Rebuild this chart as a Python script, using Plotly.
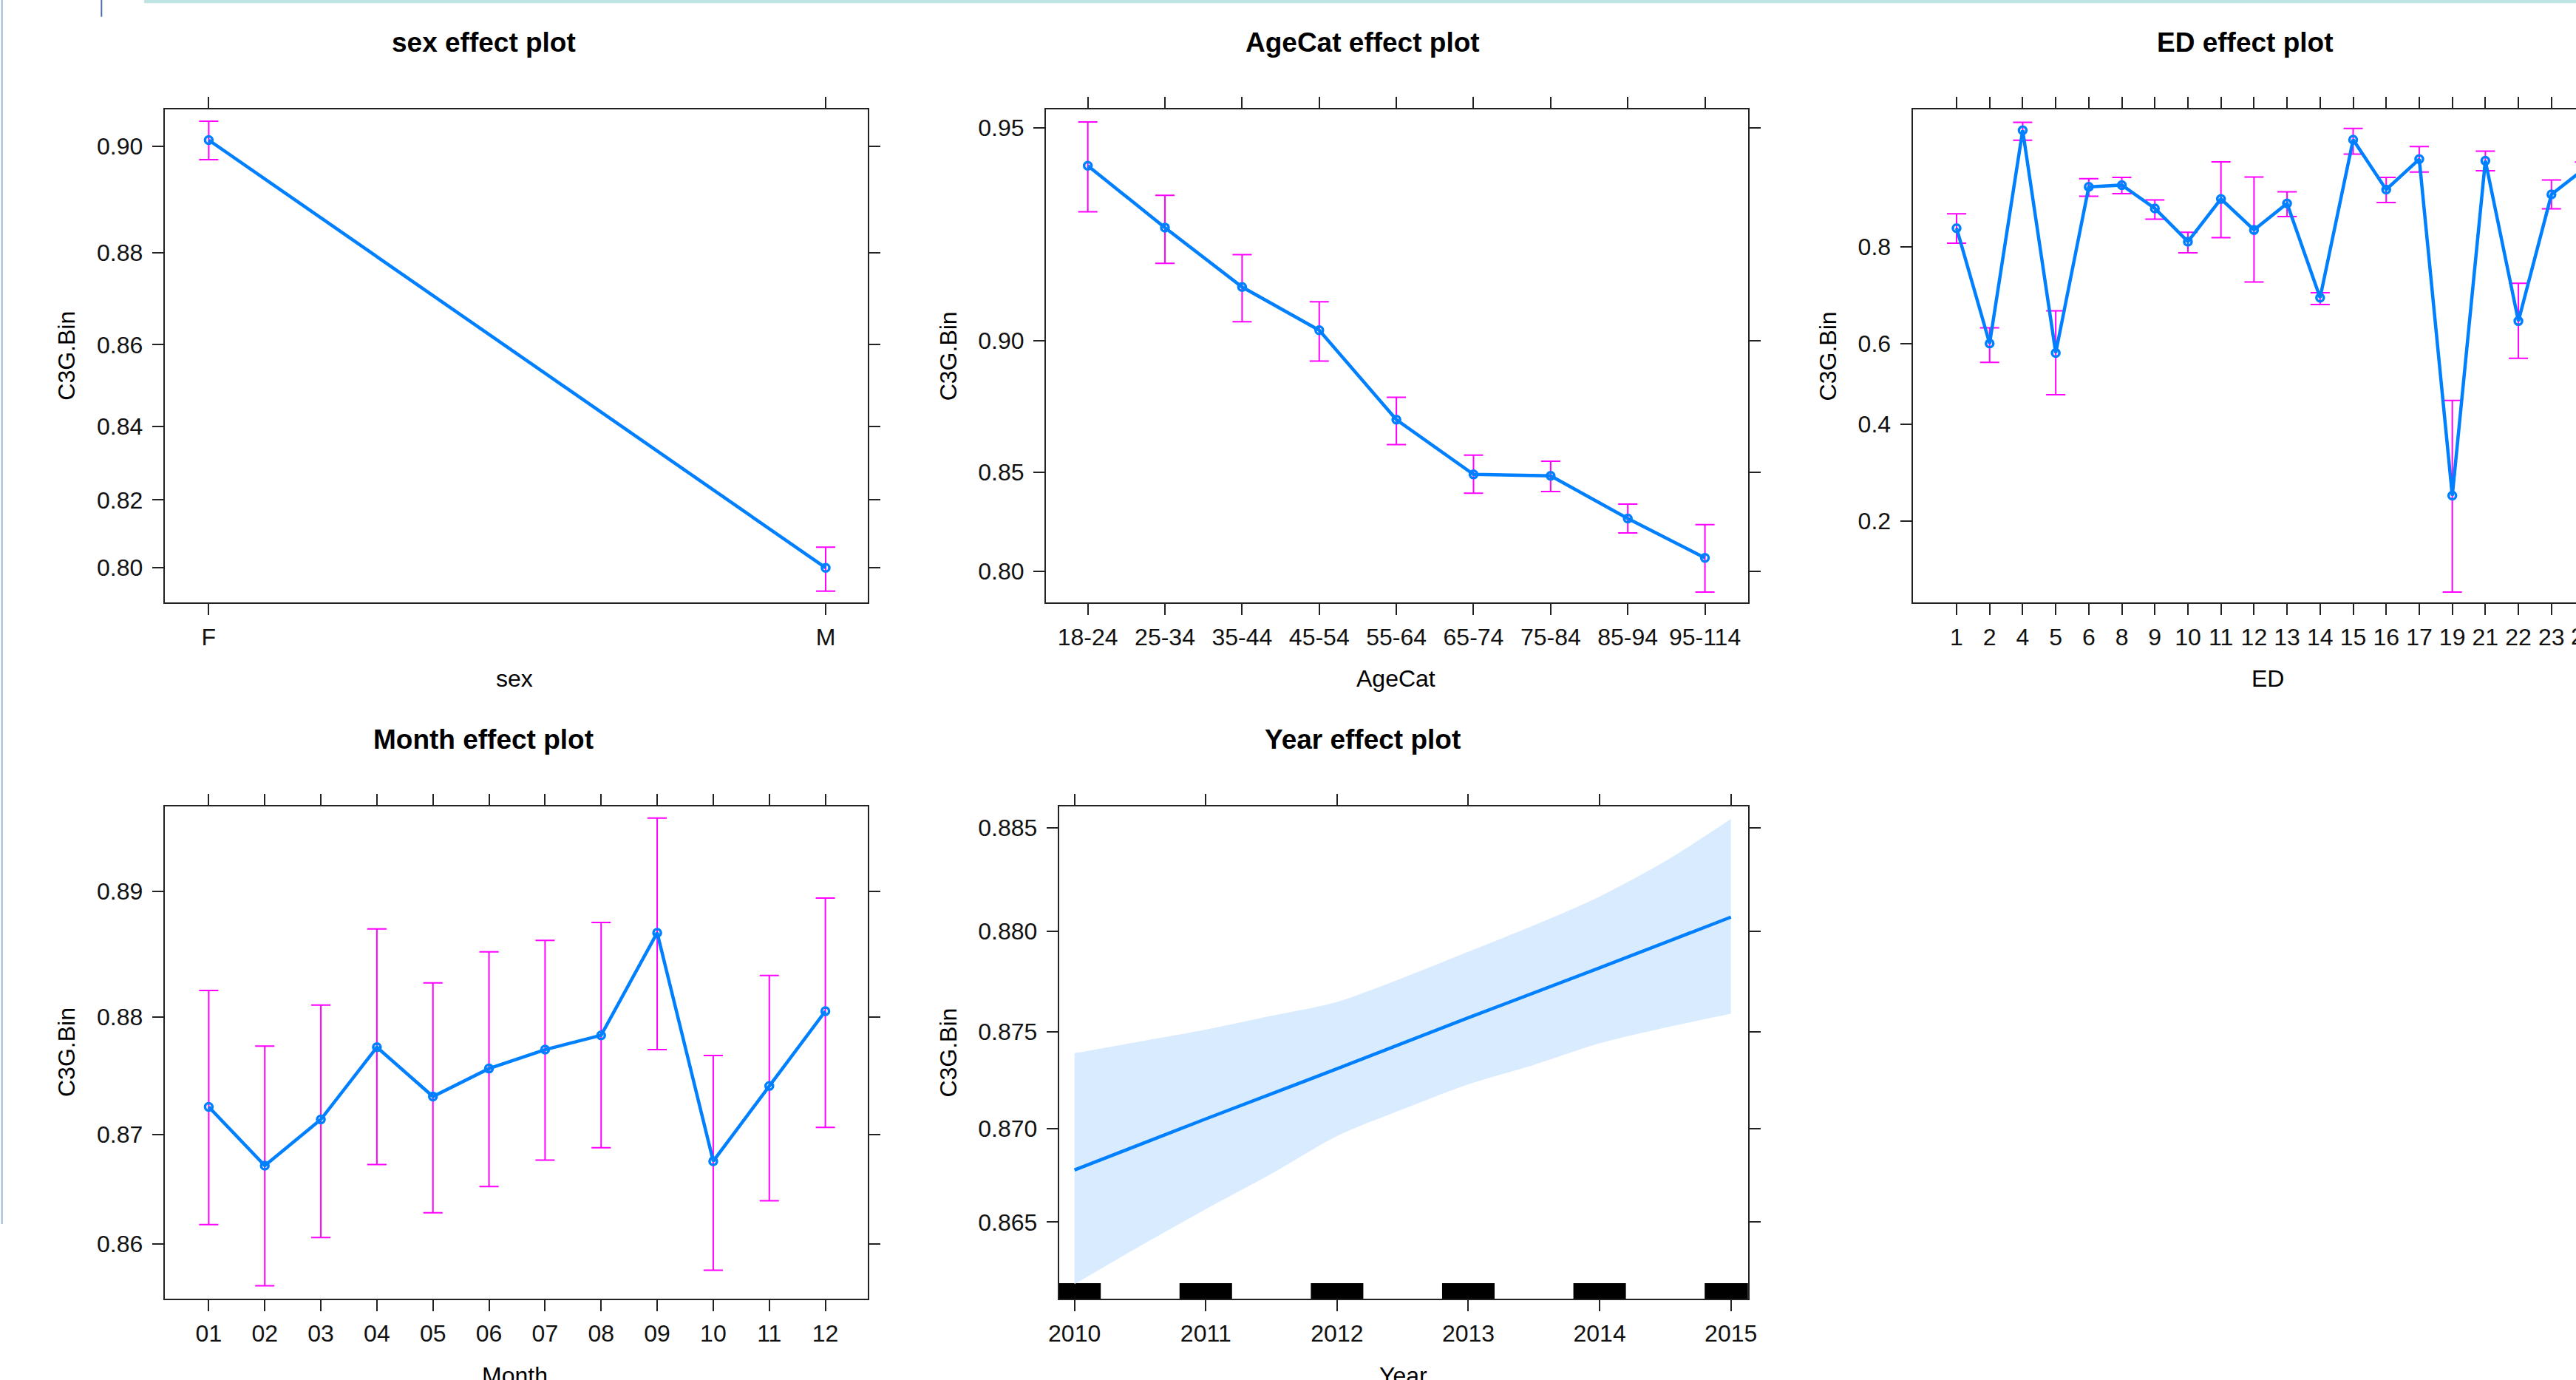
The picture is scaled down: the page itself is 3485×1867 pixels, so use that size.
import numpy as np
import plotly.graph_objects as go

W, H = 3485, 1867
FONT = "Liberation Sans, Arial, Helvetica, sans-serif"
BLUE = "rgb(0,128,255)"
MAGENTA = "rgb(255,0,255)"
BAND = "rgb(217,236,255)"
INK = "#222222"

# ---------------- data (probabilities) ----------------
sex_levels = ["F", "M"]
sex_fit = [0.9011, 0.7999]
sex_lower = [0.8977, 0.7926]
sex_upper = [0.9043, 0.8062]

age_levels = ["18-24", "25-34", "35-44", "45-54", "55-64", "65-74", "75-84", "85-94", "95-114"]
age_fit = [0.9433, 0.9305, 0.9157, 0.9032, 0.8720, 0.8489, 0.8483, 0.8279, 0.8073]
age_lower = [0.9340, 0.9219, 0.9058, 0.8933, 0.8619, 0.8402, 0.8410, 0.8206, 0.7879]
age_upper = [0.9510, 0.9375, 0.9241, 0.9116, 0.8805, 0.8574, 0.8548, 0.8350, 0.8248]

ed_levels = ["1", "2", "4", "5", "6", "8", "9", "10", "11", "12", "13", "14", "15",
             "16", "17", "19", "21", "22", "23", "24"]
ed_fit = [0.8288, 0.6008, 0.9288, 0.5778, 0.8803, 0.8822, 0.8554, 0.8086, 0.8668, 0.8262,
          0.8615, 0.7053, 0.9222, 0.8774, 0.9069, 0.2438, 0.9055, 0.6539, 0.8720, 0.8985]
ed_lower = [0.8060, 0.5543, 0.9219, 0.4728, 0.8699, 0.8729, 0.8413, 0.7904, 0.8148, 0.7373,
            0.8449, 0.6909, 0.9111, 0.8625, 0.8953, 0.1082, 0.8964, 0.5644, 0.8548, 0.8921]
ed_upper = [0.8485, 0.6383, 0.9340, 0.6772, 0.8887, 0.8900, 0.8657, 0.8229, 0.9046, 0.8905,
            0.8749, 0.7156, 0.9300, 0.8900, 0.9172, 0.4580, 0.9135, 0.7346, 0.8875, 0.9044]

month_levels = ["01", "02", "03", "04", "05", "06", "07", "08", "09", "10", "11", "12"]
month_fit = [0.8724, 0.8672, 0.8713, 0.8775, 0.8733, 0.8757, 0.8773, 0.8785, 0.8868, 0.8676, 0.8742, 0.8805]
month_lower = [0.8618, 0.8560, 0.8606, 0.8673, 0.8629, 0.8653, 0.8677, 0.8688, 0.8773, 0.8575, 0.8640, 0.8706]
month_upper = [0.8822, 0.8776, 0.8810, 0.8871, 0.8828, 0.8853, 0.8862, 0.8876, 0.8955, 0.8768, 0.8834, 0.8895]

year_x = [2010, 2011, 2012, 2013, 2014, 2015]
year_fit = [0.8678, 0.8705, 0.8731, 0.8757, 0.8782, 0.8807]
band_x = [2010, 2010.5, 2011, 2011.5, 2012, 2012.5, 2013, 2013.5, 2014, 2014.5, 2015]
band_upper = [0.8739, 0.8745, 0.8751, 0.8758, 0.8765, 0.8777, 0.8790, 0.8803, 0.8817, 0.8834, 0.8854]
band_lower = [0.8616, 0.8637, 0.8657, 0.8676, 0.8696, 0.8710, 0.8723, 0.8733, 0.8744, 0.8752, 0.8759]
rug_years = [2010, 2011, 2012, 2013, 2014, 2015]

sex_yticks = [0.80, 0.82, 0.84, 0.86, 0.88, 0.90]
age_yticks = [0.80, 0.85, 0.90, 0.95]
ed_yticks = [0.2, 0.4, 0.6, 0.8]
month_yticks = [0.86, 0.87, 0.88, 0.89]
year_yticks = [0.865, 0.870, 0.875, 0.880, 0.885]


def logit(p):
    p = np.asarray(p, dtype=float)
    return np.log(p / (1.0 - p))


# ---------------- layout geometry (pixels of the 3485x1867 canvas) ----------------
def dom_x(a, b):
    return [a / W, min(b / W, 1.0)]


def dom_y(top, bottom):
    return [1 - bottom / H, 1 - top / H]


TOP_ROW = (148.4, 815.0)
BOT_ROW = (1090.9, 1757.0)

fig = go.Figure()


def base_axis(**kw):
    d = dict(showline=True, linecolor=INK, linewidth=2, mirror="allticks", ticks="outside",
             ticklen=15, tickwidth=2, tickcolor=INK, showgrid=False, zeroline=False,
             tickfont=dict(family=FONT, size=32, color="#111111"), ticklabelstandoff=6,
             fixedrange=True)
    d.update(kw)
    return d


def factor_panel(idx, levels, fit, lo, up, xdom, ydom, xrange, yrange, yticks, fmt, ymirror="allticks"):
    yf = logit(fit)
    ep = logit(up) - yf
    em = yf - logit(lo)
    fig.add_trace(go.Scatter(
        x=levels, y=yf, xaxis=f"x{idx}", yaxis=f"y{idx}", mode="lines+markers",
        line=dict(color=BLUE, width=4.5),
        marker=dict(symbol="circle-open", size=10, color=BLUE, line=dict(width=3.5, color=BLUE)),
        error_y=dict(type="data", array=ep, arrayminus=em, color=MAGENTA, thickness=2, width=13),
        showlegend=False, hoverinfo="skip"))
    fig.layout[f"xaxis{idx}"] = base_axis(domain=xdom, anchor=f"y{idx}", type="category",
                                           range=xrange, categoryorder="array", categoryarray=levels,
                                           ticklabelstandoff=3)
    fig.layout[f"yaxis{idx}"] = base_axis(domain=ydom, anchor=f"x{idx}", range=yrange,
                                           tickvals=logit(yticks), ticktext=[fmt.format(v) for v in yticks],
                                           mirror=ymirror)


# sex
factor_panel(1, sex_levels, sex_fit, sex_lower, sex_upper, dom_x(222.7, 1174), dom_y(*TOP_ROW),
             [-0.0715, 1.0683], [1.319, 2.268], sex_yticks, "{:.2f}")
# AgeCat
factor_panel(2, age_levels, age_fit, age_lower, age_upper, dom_x(1415, 2364.8), dom_y(*TOP_ROW),
             [-0.543, 8.558], [1.2758, 3.0091], age_yticks, "{:.2f}")
# ED (panel runs off the right edge of the picture)
ED_LEFT, ED_STEP, ED_FIRST = 2587.5, 44.71, 2647.0
ed_r0 = -(ED_FIRST - ED_LEFT) / ED_STEP
ed_r1 = (W - ED_FIRST) / ED_STEP
factor_panel(3, ed_levels, ed_fit, ed_lower, ed_upper, dom_x(ED_LEFT, W), dom_y(*TOP_ROW),
             [ed_r0, ed_r1], [-2.2136, 2.7772], ed_yticks, "{:.1f}", ymirror=False)
# Month
factor_panel(4, month_levels, month_fit, month_lower, month_upper, dom_x(222.7, 1174), dom_y(*BOT_ROW),
             [-0.787, 11.757], [1.7724, 2.1573], month_yticks, "{:.2f}")

# Year (numeric effect with confidence band and rug)
yr_range = [1.8219, 2.0505]
fig.add_trace(go.Scatter(x=band_x, y=logit(band_lower), xaxis="x5", yaxis="y5", mode="lines",
                         line=dict(width=0, color=BAND, shape="spline", smoothing=0.8),
                         showlegend=False, hoverinfo="skip"))
fig.add_trace(go.Scatter(x=band_x, y=logit(band_upper), xaxis="x5", yaxis="y5", mode="lines",
                         fill="tonexty", fillcolor=BAND,
                         line=dict(width=0, color=BAND, shape="spline", smoothing=0.8),
                         showlegend=False, hoverinfo="skip"))
fig.add_trace(go.Scatter(x=year_x, y=logit(year_fit), xaxis="x5", yaxis="y5", mode="lines",
                         line=dict(color=BLUE, width=4.5), showlegend=False, hoverinfo="skip"))
rug_h = (yr_range[1] - yr_range[0]) * 21.0 / (BOT_ROW[1] - BOT_ROW[0])
fig.add_trace(go.Bar(x=rug_years, y=[rug_h] * len(rug_years), base=[yr_range[0]] * len(rug_years),
                     width=0.4, marker=dict(color="black", line=dict(width=0)), xaxis="x5", yaxis="y5",
                     showlegend=False, hoverinfo="skip"))
fig.layout["xaxis5"] = base_axis(domain=dom_x(1432.7, 2364.8), anchor="y5", range=[2009.882, 2015.13],
                                 tickvals=year_x, ticktext=[str(v) for v in year_x], ticklabelstandoff=3)
fig.layout["yaxis5"] = base_axis(domain=dom_y(*BOT_ROW), anchor="x5", range=yr_range,
                                 tickvals=logit(year_yticks), ticktext=[f"{v:.3f}" for v in year_yticks])

# ---------------- text ----------------
ann = []


def add_text(text, x, y, size=32, bold=False, angle=0, color="#000000"):
    ann.append(dict(text=f"<b>{text}</b>" if bold else text, x=x / W, y=1 - y / H, xref="paper", yref="paper",
                    xanchor="center", yanchor="middle", showarrow=False, textangle=angle,
                    font=dict(family=FONT, size=size, color=color)))


add_text("sex effect plot", 654, 57, 37, True)
add_text("AgeCat effect plot", 1843, 57, 37, True)
add_text("ED effect plot", 3036.6, 57, 37, True)
add_text("Month effect plot", 654, 1000, 37, True)
add_text("Year effect plot", 1843, 1000, 37, True)

add_text("sex", 696, 918)
add_text("AgeCat", 1889, 918)
add_text("ED", 3068, 918)
add_text("Month", 696, 1861)
add_text("Year", 1898, 1861)

for xc, yc in [(90, 481.7), (1282.6, 481.7), (2472.7, 481.7), (90, 1424), (1282.6, 1424)]:
    add_text("C3G.Bin", xc, yc, 32, False, -90)

# the ED tick label that sits just past the picture's right edge (only a sliver shows)
ed_next_px = ED_FIRST + (len(ed_levels) - 1) * ED_STEP
add_text(ed_levels[-1], ed_next_px, 861, 32, False, 0, "#111111")

# screenshot frame decorations
shapes = [
    dict(type="rect", xref="paper", yref="paper", x0=195 / W, x1=1.0, y0=1 - 4.3 / H, y1=1.0,
         fillcolor="#BFE4E4", line=dict(width=0)),
    dict(type="line", xref="paper", yref="paper", x0=137.3 / W, x1=137.3 / W, y0=1 - 22.7 / H, y1=1.0,
         line=dict(color="#4F6FAF", width=2)),
    dict(type="line", xref="paper", yref="paper", x0=2.7 / W, x1=2.7 / W, y0=1 - 1656 / H, y1=1.0,
         line=dict(color="#9DB3D8", width=2)),
]

fig.update_layout(margin=dict(l=0, r=0, t=0, b=0, autoexpand=False), paper_bgcolor="white",
                  plot_bgcolor="white", annotations=ann, shapes=shapes, barmode="overlay",
                  font=dict(family=FONT, color="#111111"), showlegend=False, autosize=True)

fig.write_html("out.html", include_plotlyjs=True, config={"displayModeBar": False},
               default_width=f"{W}px",
               default_height=f"{H}px; position:absolute; left:0px; top:0px; margin:0px; padding:0px",
               post_script="document.body.style.margin='0';document.body.style.overflow='hidden';")
